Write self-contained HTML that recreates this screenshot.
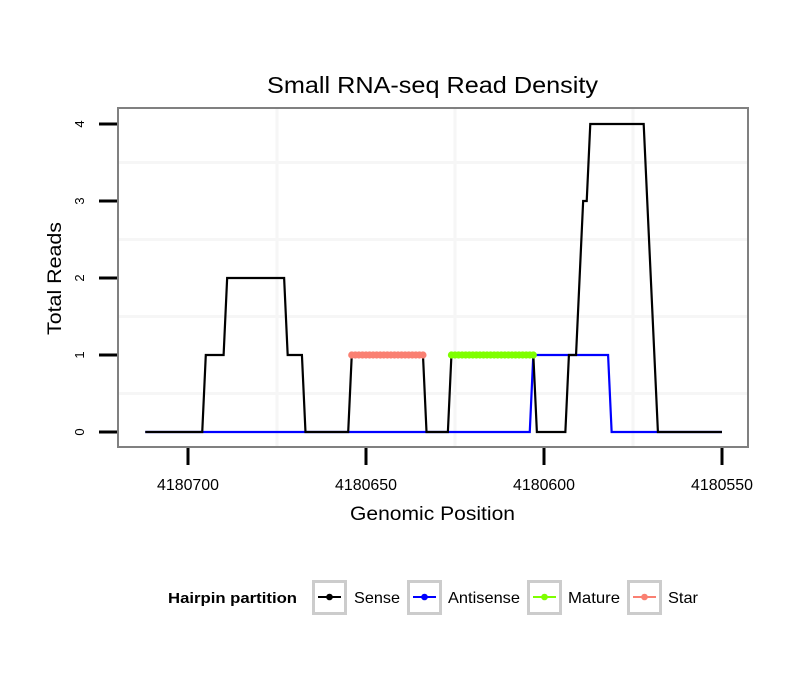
<!DOCTYPE html>
<html><head><meta charset="utf-8"><style>
body{margin:0;background:#fff}
svg{display:block;font-family:"Liberation Sans",sans-serif}
</style></head><body>
<svg id="chart" width="810" height="690" viewBox="0 0 810 690">
<rect width="810" height="690" fill="#fff"/>
<text x="267" y="93" font-size="23" textLength="331" lengthAdjust="spacingAndGlyphs">Small RNA-seq Read Density</text>
<g id="grid"></g>
<g id="series"></g>
<rect x="118" y="108" width="630" height="339" fill="none" stroke="#808080" stroke-width="2"/>
<g id="axes"></g>
<text x="350" y="520" font-size="19" textLength="165" lengthAdjust="spacingAndGlyphs">Genomic Position</text>
<text transform="translate(61,335) rotate(-90)" font-size="19" textLength="113" lengthAdjust="spacingAndGlyphs">Total Reads</text>
<g id="legend">
<text x="168" y="603" font-size="15" font-weight="bold" textLength="129" lengthAdjust="spacingAndGlyphs">Hairpin partition</text>
</g>
</svg>
<script>
const xTicks=[4180700,4180650,4180600,4180550];
const yTicks=[0,1,2,3,4];
const sensePos=[4180712,4180696,4180695,4180690,4180689,4180673,4180672,4180668,4180667,4180655,4180654,4180634,4180633,4180627,4180626,4180603,4180602,4180594,4180593,4180591,4180589,4180588,4180587,4180572,4180568,4180550];
const senseVal=[0,0,1,1,2,2,1,1,0,0,1,1,0,0,1,1,0,0,1,1,3,3,4,4,0,0];
const antiPos=[4180712,4180604,4180603,4180582,4180581,4180550];
const antiVal=[0,0,1,1,0,0];
const starRange=[4180654,4180634];
const starVal=1;
const matureRange=[4180626,4180603];
const matureVal=1;
const legendLabels=["Sense","Antisense","Mature","Star"];
const legendColors=["#000000","#0000ff","#7fff00","#fa8072"];

const NS="http://www.w3.org/2000/svg";
function X(p){return 188+(4180700-p)*3.56;}
function Y(v){return 432-v*77;}
function mk(t,a,parent){const e=document.createElementNS(NS,t);for(const k in a)e.setAttribute(k,a[k]);parent.appendChild(e);return e;}
const grid=document.getElementById('grid'),series=document.getElementById('series'),axes=document.getElementById('axes'),legend=document.getElementById('legend');
for(let i=0;i<yTicks.length;i++){
 const v=yTicks[i]+0.5;
 if(v>4.2)continue;
 const l=mk('line',{x1:119,x2:747,y1:Y(v),y2:Y(v),stroke:'#f6f6f6','stroke-width':3},grid);
 
 
}
for(let i=0;i<xTicks.length;i++){
 const p=xTicks[i]-25;
 if(X(p)>747)continue;
 const l=mk('line',{x1:X(p),x2:X(p),y1:109,y2:446,stroke:'#f6f6f6','stroke-width':3},grid);
 
 
}
function poly(pos,val,color,name){
 const pts=pos.map((p,i)=>X(p)+','+Y(val[i])).join(' ');
 const e=mk('polyline',{points:pts,fill:'none',stroke:color,'stroke-width':2.2},series);
 
 
}
poly(antiPos,antiVal,'#0000ff','antisense-line');
poly(sensePos,senseVal,'#000000','sense-line');
function dots(range,v,color,name){
 const g=mk('g',{},series);
 
 
 mk('line',{x1:X(range[0]),x2:X(range[1]),y1:Y(v),y2:Y(v),stroke:color,'stroke-width':2},g);
 for(let p=range[0];p>=range[1];p--){
  const c=mk('circle',{cx:X(p),cy:Y(v),r:3.6,fill:color},g);
  
  
 }
}
dots(starRange,starVal,'#fa8072','star-series');
dots(matureRange,matureVal,'#7fff00','mature-series');
yTicks.forEach(v=>{
 const t=mk('line',{x1:99,x2:117,y1:Y(v),y2:Y(v),stroke:'#000','stroke-width':3},axes);
 
 
 const tx=mk('text',{transform:`translate(84,${Y(v)}) rotate(-90)`,'font-size':13,'text-anchor':'middle'},axes);
 tx.textContent=v;
 
 
});
xTicks.forEach(p=>{
 const t=mk('line',{x1:X(p),x2:X(p),y1:448,y2:465,stroke:'#000','stroke-width':3},axes);
 
 
 const tx=mk('text',{x:X(p)-31,y:490,'font-size':16,textLength:62,lengthAdjust:'spacingAndGlyphs'},axes);
 tx.textContent=p;
 
 
});
const keyX=[312,407,527,627];
const labX=[354,448,568,668];
const labW=[46,72,52,30];
legendLabels.forEach((lab,i)=>{
 const g=mk('g',{},legend);
 
 
 const x=keyX[i];
 mk('rect',{x:x+1.5,y:581.5,width:32,height:32,fill:'#fff',stroke:'#cccccc','stroke-width':3},g);
 mk('line',{x1:x+6,x2:x+29,y1:597,y2:597,stroke:legendColors[i],'stroke-width':2},g);
 mk('circle',{cx:x+17.5,cy:597,r:3.3,fill:legendColors[i]},g);
 const t=mk('text',{x:labX[i],y:603,'font-size':16,textLength:labW[i],lengthAdjust:'spacingAndGlyphs'},g);
 t.textContent=lab;
});
</script>
</body></html>
